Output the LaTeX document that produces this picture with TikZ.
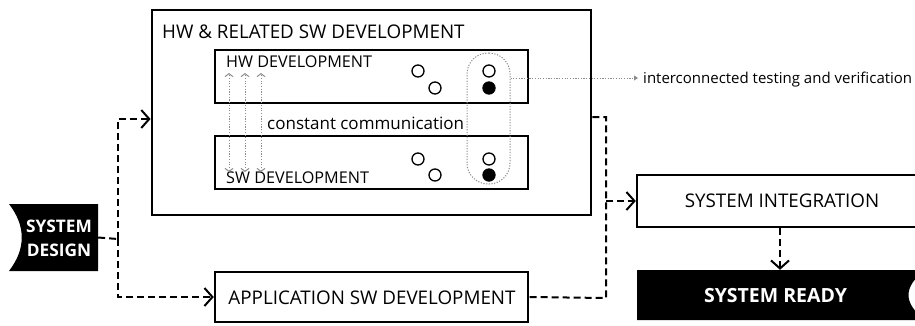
\documentclass[tikz,border=0pt]{standalone}
\usepackage{fontspec}
\setmainfont{Open Sans}
\usetikzlibrary{arrows.meta}
\definecolor{dotgray}{RGB}{140,140,140}
\tikzset{
  block/.style={draw, line width=2.4pt, inner sep=0pt, minimum height=51pt},
  devbox/.style={draw, line width=1.4pt, minimum width=313pt, minimum height=53pt},
  label/.style={inner sep=0pt, font=\fontsize{18.8}{22}\selectfont},
  sublabel/.style={inner sep=0pt, font=\fontsize{16.2}{19}\selectfont},
  conn/.style={line width=2pt, dash pattern=on 7pt off 4pt},
  connarrow/.style={conn, -{Straight Barb[length=8pt,width=18pt,line width=2pt]}},
  comm/.style={dotgray, line width=1pt, dash pattern=on 1.2pt off 1.5pt,
    {Straight Barb[length=3pt,width=8pt,line width=1pt]}-{Straight Barb[length=3pt,width=8pt,line width=1pt]}},
  dot/.style={circle, draw, line width=1.3pt, inner sep=0pt, minimum size=12pt},
  fulldot/.style={dot, fill=black},
}
\begin{document}
\begin{tikzpicture}[x=1pt,y=-1pt]
\clip (0,0) rectangle (915,325);
% main block
\node[block, line width=2.8pt, minimum width=439pt, minimum height=205pt] (hwsw) at (371.5,112.5) {};
\node[label, anchor=west] (hwswt) at (162,32) {HW \& RELATED SW DEVELOPMENT};
\node[devbox] (hw) at (371.5,76.5) {};
\node[devbox] (sw) at (371.5,162.5) {};
\node[sublabel, anchor=west] (hwt) at (226,62) {HW DEVELOPMENT};
\node[sublabel, anchor=west] (swt) at (226,178) {SW DEVELOPMENT};
\node[sublabel, anchor=west, font=\fontsize{17}{20}\selectfont] (cc) at (267,123) {constant communication};
\foreach \x in {229,245,261}{
  \coordinate (up\x) at (\x,73);
  \coordinate (dn\x) at (\x,172);
  \path[draw,comm] (dn\x) -- (up\x);
}
% circles
\node[dot] (h1) at (418,71) {};
\node[dot] (h2) at (435,88) {};
\node[dot] (h3) at (489,71) {};
\node[fulldot] (h4) at (489,88) {};
\node[dot] (s1) at (418,159) {};
\node[dot] (s2) at (435,175) {};
\node[dot] (s3) at (489,159) {};
\node[fulldot] (s4) at (489,175) {};
\node[draw=dotgray, line width=1pt, dash pattern=on 1.2pt off 1.5pt, rounded corners=21pt,
  minimum width=43pt, minimum height=131pt] (col) at (488.5,118.5) {};
\node[inner sep=0pt, anchor=base west, font=\fontsize{15}{18}\selectfont] (tv) at (643,83) {interconnected testing and verification};
\path[draw,dotgray,line width=1pt,dash pattern=on 1.2pt off 1.5pt,-{Triangle[length=4pt,width=5pt]}]
  ([yshift=40.5pt]col.east) -- ([xshift=-5pt]tv.west |- 0,78);
% system design
\fill (9,204) .. controls (26,226) and (26,249) .. (9,271) -- (98,271) -- (98,204) -- cycle;
\node[inner sep=0pt, minimum width=89pt, minimum height=67pt] (sd) at (53.5,237.5) {};
\node[inner sep=0pt, white, align=center, font=\fontsize{17.3}{24}\bfseries\selectfont] (sdt) at (59,238) {SYSTEM\\DESIGN};
% application sw
\node[block, minimum width=313pt, minimum height=50pt] (app) at (371.5,297) {};
\node[label] (appt) at (372,298) {APPLICATION SW DEVELOPMENT};
% integration and ready
\node[block, minimum width=286pt, minimum height=52pt] (si) at (780,201) {};
\node[label] (sit) at (782,201) {SYSTEM INTEGRATION};
\fill (637,270) -- (925,270) .. controls (903,287) and (903,303) .. (925,320) -- (637,320) -- cycle;
\node[inner sep=0pt, minimum width=283pt, minimum height=50pt] (sr) at (778.5,295) {};
\node[inner sep=0pt, white, font=\fontsize{19.5}{22}\bfseries\selectfont] (srt) at (775.5,296) {SYSTEM READY};
% connectors
\coordinate (jl) at (118,239);
\coordinate (jt) at (606,117);
\coordinate (jb) at (606,298);
\path[draw,conn] (sd.east) -- (jl);
\path[draw,connarrow] (jl) |- ([yshift=-6.5pt]hwsw.west);
\path[draw,connarrow] (jl) |- (app.west);
\path[draw,conn] ([yshift=-4.5pt]hwsw.east) -- (jt) -- (jb) -- (app.east);
\path[draw,connarrow] (si.west -| jt) -- (si.west);
\path[draw,connarrow] (si.south) -- (si.south |- sr.north);
\end{tikzpicture}
\end{document}
